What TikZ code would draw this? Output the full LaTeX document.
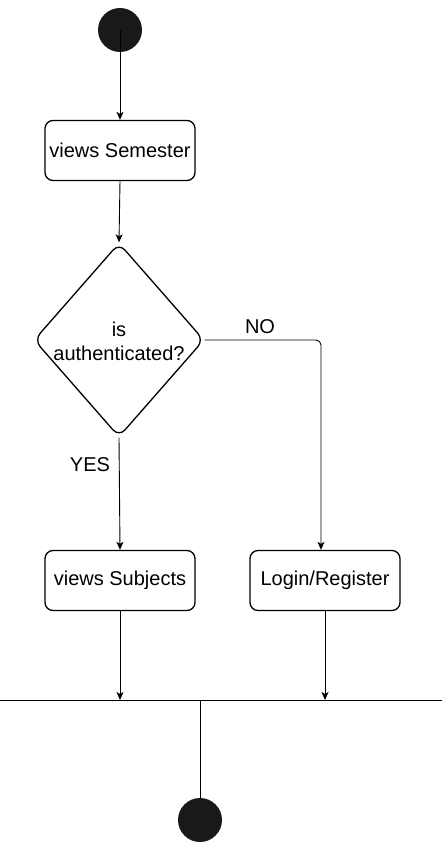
\documentclass[tikz,border=0pt]{standalone}
\usepackage{fontspec}
\setmainfont{Liberation Sans}
\usetikzlibrary{shapes.geometric,arrows.meta}
\begin{document}
\begin{tikzpicture}[x=1pt,y=-1pt,
  box/.style={draw, line width=1.3pt, rounded corners=8pt, minimum width=150pt, minimum height=60pt, inner sep=0pt, font=\fontsize{20}{24}\selectfont},
  conn/.style={line width=0.9pt, -{Stealth[length=8pt,width=7pt,inset=2pt]}},
  plain/.style={line width=0.9pt},
  dot/.style={circle, fill=black!90, minimum size=44pt, inner sep=0pt},
  lbl/.style={font=\fontsize{20}{24}\selectfont, inner sep=0pt},
  decision/.style={diamond, draw, line width=1.3pt, rounded corners=9pt, minimum width=170pt, minimum height=194pt, inner sep=0pt}]
\useasboundingbox (0,0) rectangle (442,850);
\node[dot] (start) at (120,30) {};
\node[box] (sem) at (120,150.5) {views Semester};
\node[decision] (dec) at (119,340) {};
\node[lbl, align=center] (dectext) at (119,341) {is\\authenticated?};
\node[box] (sub) at (120,580.5) {views Subjects};
\node[box] (log) at (325,580.5) {Login/Register};
\node[lbl] (no) at (260,327) {NO};
\node[lbl] (yes) at (90,465) {YES};
\coordinate (barL) at (0,700);
\coordinate (barR) at (442,700);
\coordinate (barM) at (200,700);
\coordinate (nocorner) at (321,340);
\node[dot] (end) at (200,820) {};

\draw[conn] (start.center) -- (sem.north);
\draw[conn] (sem.south) -- (dec.north);
\draw[conn] (dec.south) -- (sub.north);
\draw[conn, rounded corners=5pt] (dec.east) -- (nocorner) -- (nocorner |- log.north);
\draw[plain] (barL) -- (barR);
\draw[conn] (sub.south) -- (sub.south |- barM);
\draw[conn] (log.south) -- (log.south |- barM);
\draw[plain] (barM) -- (end.north);
\end{tikzpicture}
\end{document}
